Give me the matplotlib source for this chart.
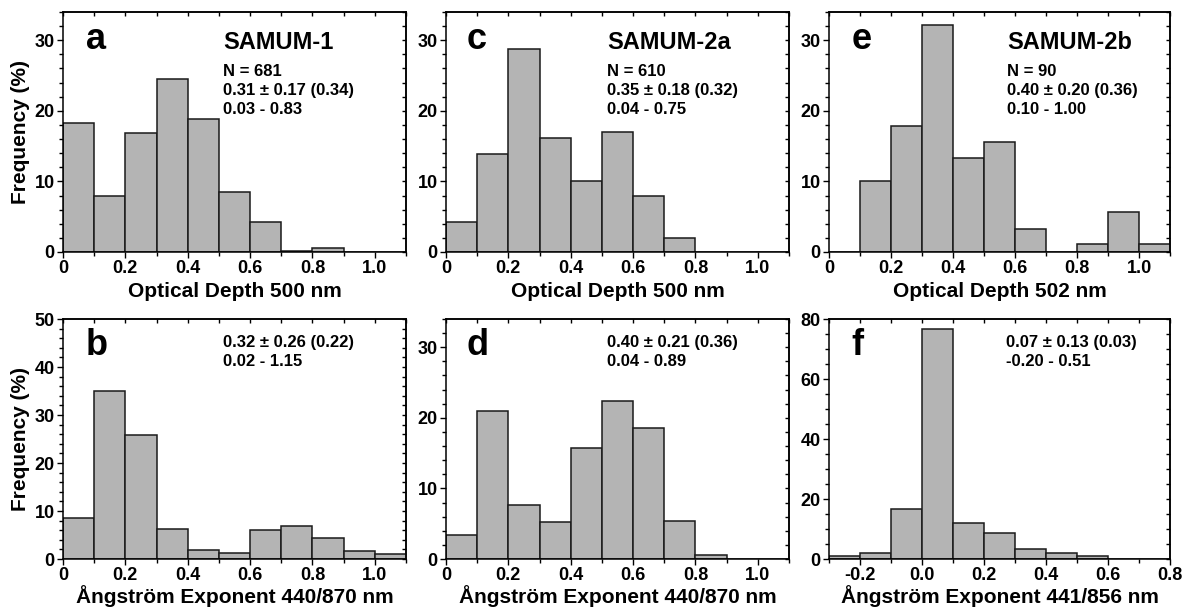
import matplotlib.pyplot as plt
from matplotlib.ticker import MultipleLocator, FuncFormatter

plt.rcParams.update({
    "font.family": ["Liberation Sans", "DejaVu Sans"],
    "font.weight": "bold",
    "axes.linewidth": 1.1,
})

# ---- Data: relative frequency (%) per 0.1-wide bin, keyed by bin left edge ----
bins_a = [0.0, 0.1, 0.2, 0.3, 0.4, 0.5, 0.6, 0.7, 0.8, 0.9, 1.0]
freq_a = [18.3, 7.9, 16.8, 24.5, 18.8, 8.5, 4.3, 0.2, 0.6, 0.0, 0.0]

bins_c = [0.0, 0.1, 0.2, 0.3, 0.4, 0.5, 0.6, 0.7, 0.8, 0.9, 1.0]
freq_c = [4.3, 13.9, 28.7, 16.1, 10.0, 17.0, 8.0, 2.0, 0.0, 0.0, 0.0]

bins_e = [0.0, 0.1, 0.2, 0.3, 0.4, 0.5, 0.6, 0.7, 0.8, 0.9, 1.0]
freq_e = [0.0, 10.0, 17.8, 32.2, 13.3, 15.6, 3.3, 0.0, 1.1, 5.6, 1.1]

bins_b = [0.0, 0.1, 0.2, 0.3, 0.4, 0.5, 0.6, 0.7, 0.8, 0.9, 1.0]
freq_b = [8.6, 35.1, 25.8, 6.3, 1.9, 1.3, 6.1, 6.9, 4.3, 1.7, 1.0]

bins_d = [0.0, 0.1, 0.2, 0.3, 0.4, 0.5, 0.6, 0.7, 0.8, 0.9, 1.0]
freq_d = [3.4, 20.9, 7.7, 5.2, 15.7, 22.4, 18.6, 5.4, 0.5, 0.0, 0.0]

bins_f = [-0.3, -0.2, -0.1, 0.0, 0.1, 0.2, 0.3, 0.4, 0.5, 0.6, 0.7]
freq_f = [1.0, 2.1, 16.6, 76.6, 12.1, 8.8, 3.2, 2.1, 1.0, 0.0, 0.0]

campaigns = ["SAMUM-1", "SAMUM-2a", "SAMUM-2b"]
counts = ["N = 681", "N = 610", "N = 90"]
aod_stats = ["0.31 \u00b1 0.17 (0.34)", "0.35 \u00b1 0.18 (0.32)", "0.40 \u00b1 0.20 (0.36)"]
aod_ranges = ["0.03 - 0.83", "0.04 - 0.75", "0.10 - 1.00"]
ae_stats = ["0.32 \u00b1 0.26 (0.22)", "0.40 \u00b1 0.21 (0.36)", "0.07 \u00b1 0.13 (0.03)"]
ae_ranges = ["0.02 - 1.15", "0.04 - 0.89", "-0.20 - 0.51"]

aod_labels = ["Optical Depth 500 nm", "Optical Depth 500 nm", "Optical Depth 502 nm"]
ae_labels = ["\u00c5ngstr\u00f6m Exponent 440/870 nm",
             "\u00c5ngstr\u00f6m Exponent 440/870 nm",
             "\u00c5ngstr\u00f6m Exponent 441/856 nm"]

# ---- Layout (pixels of a 1186 x 610 canvas) ----
W, H = 1186, 610
col_left = [63, 446, 829]
col_width = [343, 343, 341]
row_bottom = [252, 559]
ax_h = 240

BAR_COLOR = "#b4b4b4"
EDGE_COLOR = "#1a1a1a"


def tick_fmt(v, _):
    if abs(v) < 1e-9:
        return "0"
    return f"{v:.1f}"


def make_axes(col, row):
    left = col_left[col] / W
    bottom = (H - row_bottom[row]) / H
    return fig.add_axes([left, bottom, col_width[col] / W, ax_h / H])


def draw_hist(ax, bins, freq, xlim, ylim, ymajor, yminor, xlabel, ylabel,
              zero_fmt=True, xpad=1):
    ax.bar(bins, freq, width=0.1, align="edge", color=BAR_COLOR,
           edgecolor=EDGE_COLOR, linewidth=1.1, zorder=2)
    ax.set_xlim(*xlim)
    ax.set_ylim(*ylim)
    ax.xaxis.set_major_locator(MultipleLocator(0.2))
    ax.xaxis.set_minor_locator(MultipleLocator(0.1))
    ax.yaxis.set_major_locator(MultipleLocator(ymajor))
    ax.yaxis.set_minor_locator(MultipleLocator(yminor))
    if zero_fmt:
        ax.xaxis.set_major_formatter(FuncFormatter(tick_fmt))
    else:
        ax.xaxis.set_major_formatter(FuncFormatter(lambda v, _: f"{v:.1f}"))
    ax.tick_params(axis="both", which="both", labelsize=13, width=1.0)
    ax.tick_params(which="major", length=4)
    ax.tick_params(which="minor", length=3)
    ax.tick_params(axis="x", which="both", direction="out", top=False, pad=1.5)
    ax.tick_params(axis="y", which="both", direction="out", right=False, pad=2)
    # inward ticks on the top and right frame
    sec_x = ax.secondary_xaxis("top")
    sec_x.xaxis.set_major_locator(MultipleLocator(0.1))
    sec_x.tick_params(direction="in", length=3, width=1.0, labeltop=False)
    sec_y = ax.secondary_yaxis("right")
    sec_y.yaxis.set_major_locator(MultipleLocator(yminor))
    sec_y.tick_params(direction="in", length=3, width=1.0, labelright=False)
    sec_x.spines["top"].set_linewidth(1.1)
    sec_y.spines["right"].set_linewidth(1.1)
    for lab in ax.get_xticklabels() + ax.get_yticklabels():
        lab.set_fontweight("bold")
    ax.set_xlabel(xlabel, fontsize=15, fontweight="bold", labelpad=xpad)
    if ylabel:
        ax.set_ylabel(ylabel, fontsize=15, fontweight="bold", labelpad=3)


def put(ax, x, y, s, size):
    ax.text(x, y, s, transform=ax.transAxes, fontsize=size, fontweight="bold",
            ha="left", va="baseline", color="black")


fig = plt.figure(figsize=(W / 100, H / 100), dpi=100)

top_panels = [(bins_a, freq_a, "a"), (bins_c, freq_c, "c"), (bins_e, freq_e, "e")]
bot_panels = [(bins_b, freq_b, "b"), (bins_d, freq_d, "d"), (bins_f, freq_f, "f")]

letter_x = [0.067, 0.060, 0.066]
text_x = [0.466, 0.469, 0.523]
text_x_bot = [0.466, 0.469, 0.519]

for i, (bins, freq, letter) in enumerate(top_panels):
    ax = make_axes(i, 0)
    draw_hist(ax, bins, freq, (0, 1.1), (0, 34), 10, 2, aod_labels[i],
              "Frequency (%)" if i == 0 else None, xpad=4)
    put(ax, letter_x[i], 0.845, letter, 26)
    put(ax, text_x[i], 0.845, campaigns[i], 17)
    put(ax, text_x[i], 0.733, counts[i], 12)
    put(ax, text_x[i], 0.654, aod_stats[i], 12)
    put(ax, text_x[i], 0.574, aod_ranges[i], 12)

bot_limits = [((0, 1.1), (0, 50), 10, 2, True),
              ((0, 1.1), (0, 34), 10, 2, True),
              ((-0.3, 0.8), (0, 80), 20, 5, False)]

for i, (bins, freq, letter) in enumerate(bot_panels):
    ax = make_axes(i, 1)
    xlim, ylim, ymaj, ymin, zf = bot_limits[i]
    draw_hist(ax, bins, freq, xlim, ylim, ymaj, ymin, ae_labels[i],
              "Frequency (%)" if i == 0 else None, zero_fmt=zf, xpad=1)
    put(ax, letter_x[i], 0.848, letter, 26)
    put(ax, text_x_bot[i], 0.882, ae_stats[i], 12)
    put(ax, text_x_bot[i], 0.806, ae_ranges[i], 12)

fig.savefig("out.png", dpi=100, facecolor="white")
